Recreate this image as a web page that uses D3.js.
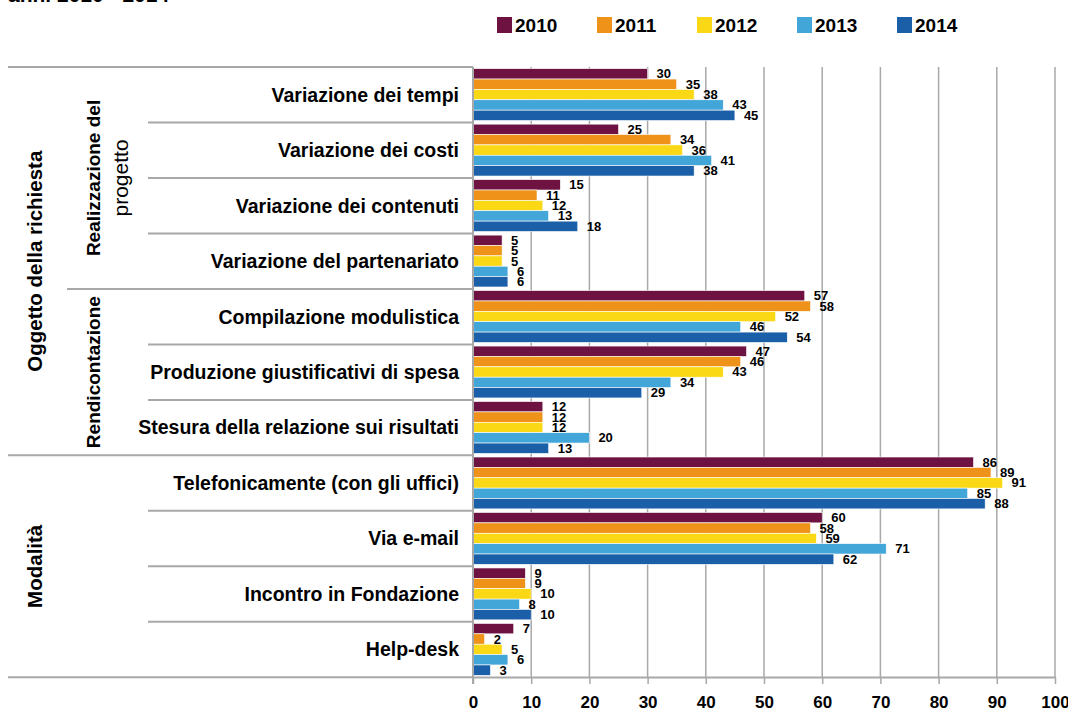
<!DOCTYPE html>
<html>
<head>
<meta charset="utf-8">
<script src="https://cdn.jsdelivr.net/npm/d3@7"></script>
<style>
  body { margin: 0; background: #fff; }
  text { font-family: "Liberation Sans", Arial, sans-serif; font-weight: bold; fill: #000; }
</style>
</head>
<body>
<div id="canvas"></div>
<script>
// data

const years = ['2010', '2011', '2012', '2013', '2014'];
const categories = [
    'Variazione dei tempi',
    'Variazione dei costi',
    'Variazione dei contenuti',
    'Variazione del partenariato',
    'Compilazione modulistica',
    'Produzione giustificativi di spesa',
    'Stesura della relazione sui risultati',
    'Telefonicamente (con gli uffici)',
    'Via e-mail',
    'Incontro in Fondazione',
    'Help-desk'
];
const values2010 = [30, 25, 15, 5, 57, 47, 12, 86, 60, 9, 7];
const values2011 = [35, 34, 11, 5, 58, 46, 12, 89, 58, 9, 2];
const values2012 = [38, 36, 12, 5, 52, 43, 12, 91, 59, 10, 5];
const values2013 = [43, 41, 13, 6, 46, 34, 20, 85, 71, 8, 6];
const values2014 = [45, 38, 18, 6, 54, 29, 13, 88, 62, 10, 3];
const xTicks = [0, 10, 20, 30, 40, 50, 60, 70, 80, 90, 100];

// groups of categories (first / last category index)
const subGroups = [
    { lines: ['Realizzazione del', 'progetto'], first: 0, last: 3 },
    { lines: ['Rendicontazione'], first: 4, last: 6 }
];
const outerGroups = [
    { label: 'Oggetto della richiesta', first: 0, last: 6 },
    { label: 'Modalità', first: 7, last: 10 }
];

const colors = ['#6d1241', '#ee9219', '#fbd816', '#42a6d9', '#1a5fa7'];
const series = [values2010, values2011, values2012, values2013, values2014];

// constants

const width = 1068;
const height = 718;
const plotLeft = 473;
const plotRight = 1055;
const plotTop = 67;
const plotBottom = 677;
const gridColor = '#a8a8a8';

// scales
const xScale = d3.scaleLinear()
    .domain([0, 100])
    .range([plotLeft, plotRight]);
const yScale = d3.scaleBand()
    .domain(categories)
    .range([plotTop, plotBottom])
    .paddingInner(0.065)
    .paddingOuter(0.03);
const yInner = d3.scaleBand()
    .domain(years)
    .range([0, yScale.bandwidth()]);
const colorScale = d3.scaleOrdinal()
    .domain(years)
    .range(colors);

const step = yScale.step();
// boundary line between categories (top edge of a category row)
const rowTop = i => plotTop + i * step;

const svg = d3.select('#canvas')
    .append('svg').attr('width', width).attr('height', height);

// cut-off subtitle at the top
svg.append('text')
    .attr('x', 8).attr('y', 2)
    .style('font-size', '21px')
    .text('anni 2010 - 2014');

// legend
const legend = svg.append('g')
    .attr('transform', 'translate(497,17)');
const legendItem = legend.selectAll('g')
    .data(years)
    .join('g')
    .attr('transform', (d, i) => `translate(${i * 100},0)`);
legendItem.append('rect')
    .attr('width', 15).attr('height', 16)
    .attr('fill', d => colorScale(d));
legendItem.append('text')
    .attr('x', 18).attr('y', 15)
    .style('font-size', '19px')
    .text(d => d);

// gridlines
svg.append('g')
    .selectAll('line')
    .data(xTicks.slice(1))
    .join('line')
    .attr('x1', d => xScale(d)).attr('x2', d => xScale(d))
    .attr('y1', plotTop).attr('y2', plotBottom)
    .attr('stroke', gridColor).attr('stroke-width', 1.5);

// bars
const rows = svg.append('g')
    .selectAll('g')
    .data(categories)
    .join('g')
    .attr('transform', d => `translate(0,${yScale(d)})`);

rows.selectAll('rect')
    .data((d, i) => years.map((y, j) => ({ year: y, value: series[j][i] })))
    .join('rect')
    .attr('x', xScale(0))
    .attr('y', d => yInner(d.year))
    .attr('width', d => xScale(d.value) - xScale(0))
    .attr('height', yInner.bandwidth())
    .attr('fill', d => colorScale(d.year))
    .attr('stroke', '#fff').attr('stroke-width', 0.6);

// value labels
rows.selectAll('text')
    .data((d, i) => years.map((y, j) => ({ year: y, value: series[j][i] })))
    .join('text')
    .attr('x', d => xScale(d.value) + 9)
    .attr('y', d => yInner(d.year) + yInner.bandwidth() / 2 + 4.5)
    .style('font-size', '13px')
    .text(d => d.value);

// x axis
const xAxis = d3.axisBottom(xScale)
    .tickValues(xTicks)
    .tickSize(7)
    .tickPadding(12)
    .tickSizeOuter(0);
const axisG = svg.append('g')
    .attr('transform', `translate(0,${plotBottom})`)
    .call(xAxis);
axisG.select('.domain').attr('stroke', gridColor).attr('stroke-width', 2);
axisG.selectAll('.tick line').attr('stroke', gridColor).attr('stroke-width', 1.5);
axisG.selectAll('.tick text')
    .style('font-size', '17px')
    .style('font-family', '"Liberation Sans", Arial, sans-serif')
    .style('font-weight', 'bold')
    .attr('fill', '#000');

// vertical axis line
svg.append('line')
    .attr('x1', plotLeft).attr('x2', plotLeft)
    .attr('y1', plotTop).attr('y2', plotBottom + 7)
    .attr('stroke', gridColor).attr('stroke-width', 2);

// category labels
svg.append('g')
    .selectAll('text')
    .data(categories)
    .join('text')
    .attr('x', 459)
    .attr('y', d => yScale(d) + yScale.bandwidth() / 2 + 7)
    .attr('text-anchor', 'end')
    .style('font-size', '19.5px')
    .text(d => d);

// separator lines on the left
const sepLines = [];
categories.forEach((c, i) => sepLines.push({ y: rowTop(i), x: 148 }));
sepLines.push({ y: rowTop(categories.length), x: 8 });
subGroups.forEach(g => { sepLines[g.first].x = 67; });
outerGroups.forEach(g => { sepLines[g.first].x = 8; });
svg.append('g')
    .selectAll('line')
    .data(sepLines)
    .join('line')
    .attr('x1', d => d.x).attr('x2', plotLeft)
    .attr('y1', d => d.y).attr('y2', d => d.y)
    .attr('stroke', gridColor).attr('stroke-width', 2);

// rotated group labels
subGroups.forEach(g => {
    const cy = (rowTop(g.first) + rowTop(g.last + 1)) / 2;
    const t = svg.append('text')
        .attr('transform', `translate(100,${cy}) rotate(-90)`)
        .attr('text-anchor', 'middle')
        .style('font-size', '19px');
    g.lines.forEach((l, k) => {
        t.append('tspan')
            .attr('x', 0)
            .attr('dy', k === 0 ? 0 : 28)
            .style('font-weight', k === 0 ? 'bold' : 'normal')
            .style('font-size', k === 0 ? '19px' : '21px')
            .text(l);
    });
});
outerGroups.forEach(g => {
    const cy = (rowTop(g.first) + rowTop(g.last + 1)) / 2;
    svg.append('text')
        .attr('transform', `translate(42,${cy}) rotate(-90)`)
        .attr('text-anchor', 'middle')
        .style('font-size', '20.5px')
        .text(g.label);
});
</script>
</body>
</html>
